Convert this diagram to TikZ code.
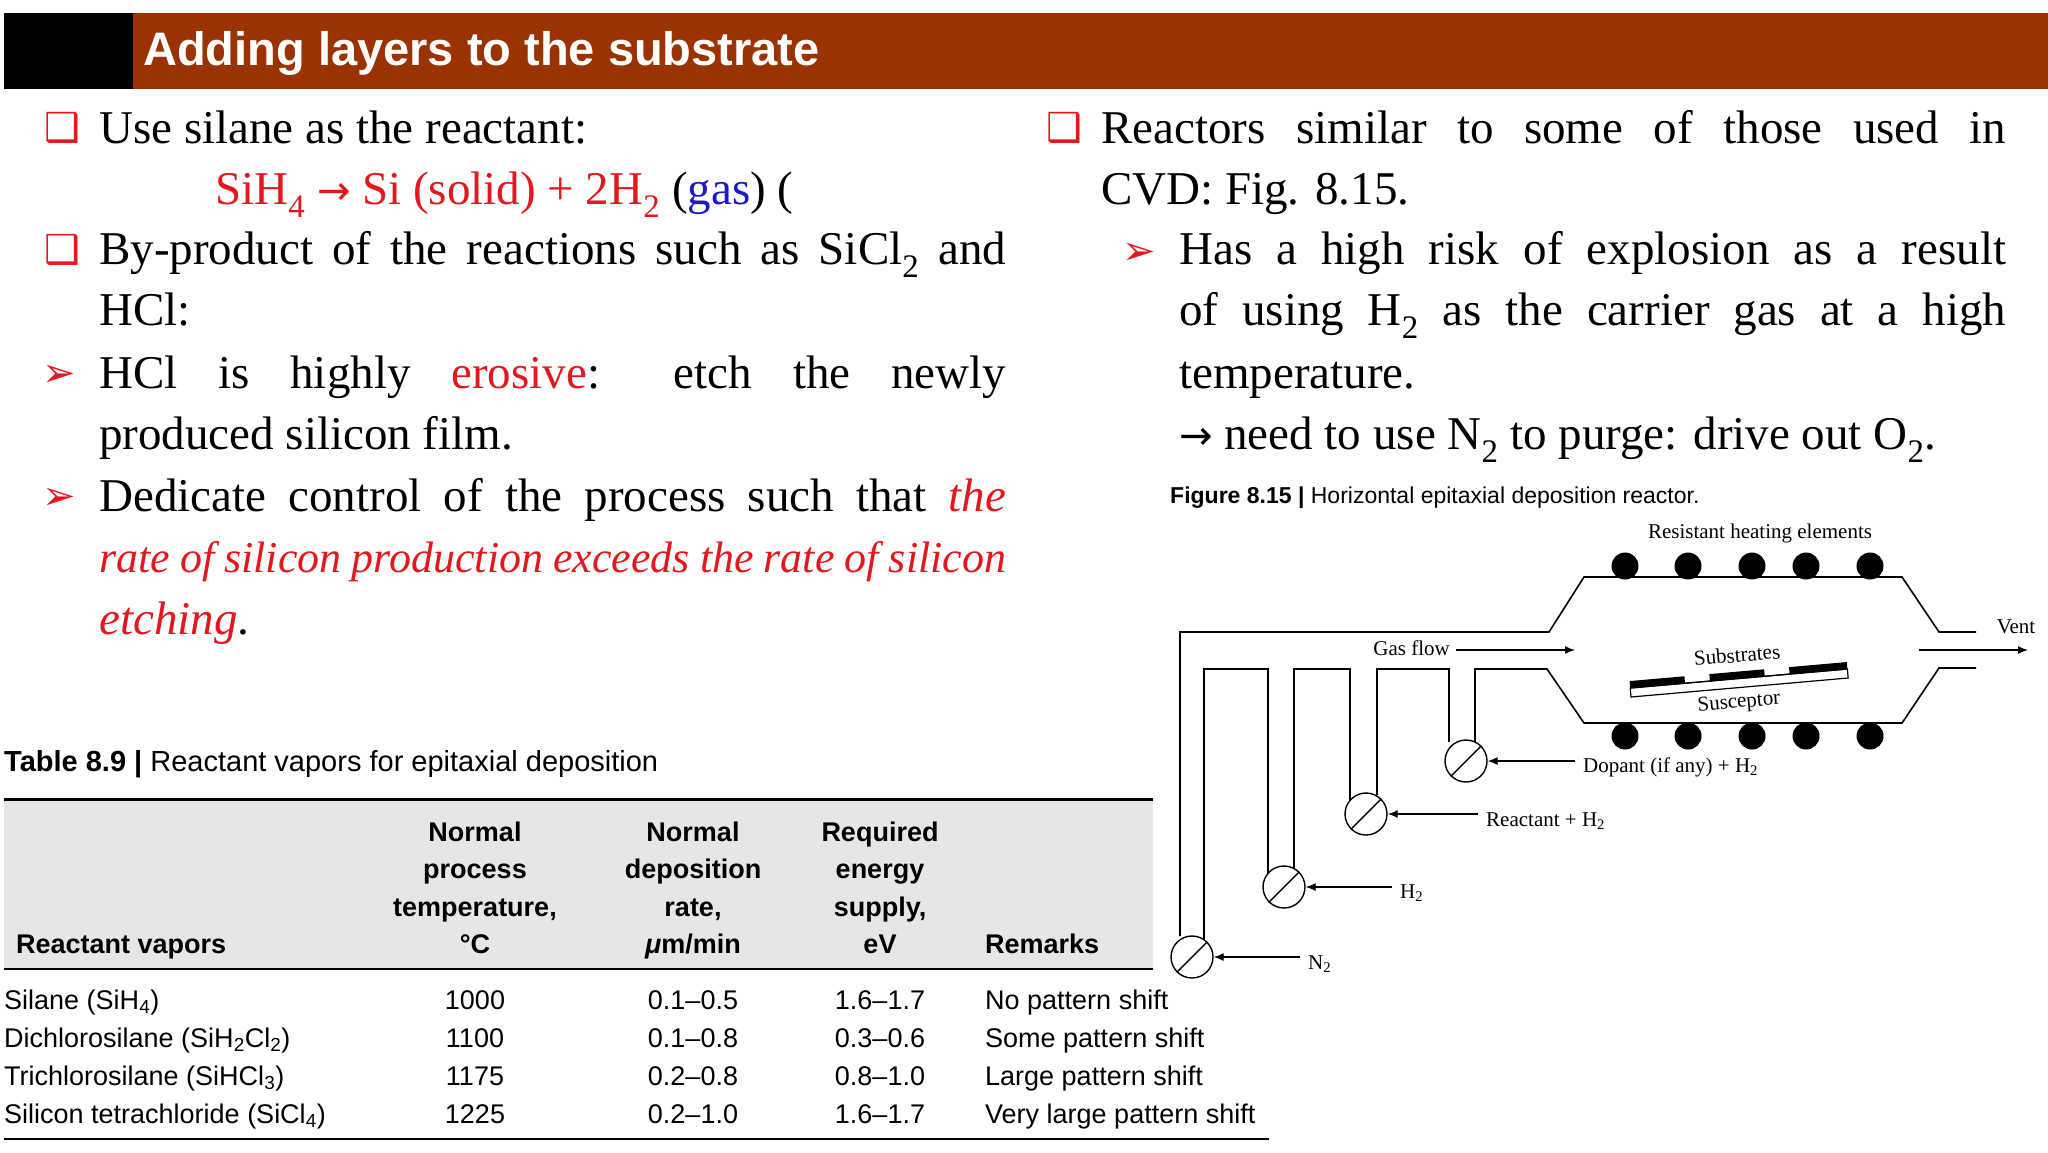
\documentclass[tikz,border=0pt]{standalone}
\usepackage{fontspec}
\usetikzlibrary{arrows.meta}
\setmainfont{Liberation Serif}
\setsansfont{Liberation Sans}
\newfontfamily\djv{DejaVu Sans}
\definecolor{barbrown}{HTML}{9A3300}
\definecolor{myred}{HTML}{E3171C}
\definecolor{myblue}{HTML}{1A1ACC}
\definecolor{hdrgray}{HTML}{E6E6E6}
\newcommand{\sbs}[1]{\textsubscript{#1}}
\newcommand{\chk}{{\djv\bfseries\color{myred}\fontsize{40}{40}\selectfont ❑}}
\newcommand{\arw}{{\djv\color{myred}\fontsize{40}{40}\selectfont ➢}}
\newcommand{\rarr}{{\djv\fontsize{40}{40}\selectfont →}}
\newcommand{\jl}[2]{\hbox to #1{#2}}
\begin{document}
\begin{tikzpicture}[x=1pt,y=-1pt,
  body/.style={anchor=base west,inner sep=0,font=\fontsize{47}{61}\selectfont},
  mk/.style={anchor=base west,inner sep=0},
  tb/.style={anchor=base,inner sep=0,font=\sffamily\fontsize{27}{30}\selectfont},
  th/.style={anchor=base,inner sep=0,font=\sffamily\bfseries\fontsize{27}{30}\selectfont},
  rl/.style={inner sep=0,font=\fontsize{21}{24}\selectfont},
  pipe/.style={line width=1.6pt},
  valve/.style={circle,draw,line width=1.4pt,minimum size=42pt,inner sep=0},
  ar/.style={-{Latex[length=10pt,width=8pt]},line width=1.4pt},
  dot/.style={circle,fill=black,minimum size=27pt,inner sep=0}]
\useasboundingbox (0,0) rectangle (2048,1152);
\fill[white] (0,0) rectangle (2048,1152);
% title bar
\fill[barbrown] (133,13) rectangle (2048,89);
\fill[black] (4,13) rectangle (133,89);
\node[anchor=west,inner sep=0,text=white,font=\sffamily\bfseries\fontsize{47}{50}\selectfont] (title) at (143,53) {Adding layers to the substrate};
% left column
\node[mk] (m1) at (44,141) {\chk};
\node[body] (l1) at (99,143) {Use silane as the reactant:};
\node[body] (l2) at (215,204) {\color{myred}SiH\sbs{4} \rarr{} Si (solid) + 2H\sbs{2} \color{black}(\color{myblue}gas\color{black}) (};
\node[mk] (m2) at (44,263) {\chk};
\node[body] (l3) at (99,264) {\jl{907pt}{By-product of the reactions such as SiCl\sbs{2} and}};
\node[body] (l4) at (99,325) {HCl:};
\node[mk] (m3) at (42,386) {\arw};
\node[body] (l5) at (99,388) {\jl{907pt}{HCl is highly {\color{myred}erosive}: etch the newly}};
\node[body] (l6) at (99,449) {produced silicon film.};
\node[mk] (m4) at (42,509) {\arw};
\node[body] (l7) at (99,511) {\jl{907pt}{Dedicate control of the process such that {\color{myred}\itshape the}}};
\node[body,font=\fontsize{44}{61}\selectfont] (l8) at (99,572) {\jl{907pt}{\color{myred}\itshape rate of silicon production exceeds the rate of silicon}};
\node[body] (l9) at (99,634) {{\color{myred}\itshape etching}.};
% right column
\node[mk] (m5) at (1046,141) {\chk};
\node[body] (r1) at (1101,143) {\jl{905pt}{Reactors similar to some of those used in}};
\node[body] (r2) at (1101,204) {CVD: Fig. 8.15.};
\node[mk] (m6) at (1122,264) {\arw};
\node[body] (r3) at (1179,264) {\jl{827pt}{Has a high risk of explosion as a result}};
\node[body] (r4) at (1179,325) {\jl{827pt}{of using H\sbs{2} as the carrier gas at a high}};
\node[body] (r5) at (1179,388) {temperature.};
\node[body] (r6) at (1179,449) {\rarr{} need to use N\sbs{2} to purge: drive out O\sbs{2}.};
% table
\node[anchor=west,inner sep=0,font=\sffamily\fontsize{29}{30}\selectfont] (tt) at (4,764) {\textbf{Table 8.9} {\bfseries|} Reactant vapors for epitaxial deposition};
\fill[hdrgray] (4,799) rectangle (1153,969);
\draw[line width=3pt] (4,799) -- (1153,799);
\draw[line width=1.4pt] (4,969) -- (1153,969);
\draw[line width=1.4pt] (4,1139) -- (1269,1139);
\node[th,anchor=base west] (h1) at (16,953) {Reactant vapors};
\node[th,anchor=base west] (h5) at (985,953) {Remarks};
\node[th] (h2a) at (475,841) {Normal};
\node[th] (h2b) at (475,878) {process};
\node[th] (h2c) at (475,916) {temperature,};
\node[th] (h2d) at (475,953) {°C};
\node[th] (h3a) at (693,841) {Normal};
\node[th] (h3b) at (693,878) {deposition};
\node[th] (h3c) at (693,916) {rate,};
\node[th] (h3d) at (693,953) {\textit{μ}m/min};
\node[th] (h4a) at (880,841) {Required};
\node[th] (h4b) at (880,878) {energy};
\node[th] (h4c) at (880,916) {supply,};
\node[th] (h4d) at (880,953) {eV};
\foreach \y/\a/\b/\c/\d/\e in {1009/Silane (SiH\sbs{4})/1000/0.1–0.5/1.6–1.7/No pattern shift,
  1047/Dichlorosilane (SiH\sbs{2}Cl\sbs{2})/1100/0.1–0.8/0.3–0.6/Some pattern shift,
  1085/Trichlorosilane (SiHCl\sbs{3})/1175/0.2–0.8/0.8–1.0/Large pattern shift,
  1123/Silicon tetrachloride (SiCl\sbs{4})/1225/0.2–1.0/1.6–1.7/Very large pattern shift}{
  \node[tb,anchor=base west] at (4,\y) {\a};
  \node[tb] at (475,\y) {\b};
  \node[tb] at (693,\y) {\c};
  \node[tb] at (880,\y) {\d};
  \node[tb,anchor=base west] at (985,\y) {\e};
}
% figure caption
\node[anchor=west,inner sep=0,font=\sffamily\fontsize{23}{26}\selectfont] (fc) at (1170,498) {\textbf{Figure 8.15} {\bfseries|} Horizontal epitaxial deposition reactor.};
% reactor
\node[rl] (heat) at (1760,533) {Resistant heating elements};
\foreach \x in {1625,1688,1752,1806,1870}{
  \node[dot] at (\x,566) {};
  \node[dot] at (\x,736) {};
}
\draw[pipe] (1976,632) -- (1939,632) -- (1902,577) -- (1584,577) -- (1549,632) -- (1180,632) -- (1180,936);
\draw[pipe] (1976,668) -- (1939,668) -- (1902,723) -- (1584,723) -- (1547,669) -- (1475,669) -- (1475,742);
\draw[pipe] (1449,742) -- (1449,669) -- (1377,669) -- (1377,795);
\draw[pipe] (1350,801) -- (1350,669) -- (1294,669) -- (1294,868);
\draw[pipe] (1268,874) -- (1268,669) -- (1204,669) -- (1204,940);
\node[valve] (vd) at (1466,761) {};
\node[valve] (vr) at (1366,814) {};
\node[valve] (vh) at (1284,887) {};
\node[valve] (vn) at (1192,957) {};
\foreach \v in {vd,vr,vh,vn}{\draw[line width=1.4pt] (\v.-135) -- (\v.45);}
\node[rl,anchor=west] (ld) at (1583,767) {Dopant (if any) + H\sbs{2}};
\node[rl,anchor=west] (lr) at (1486,821) {Reactant + H\sbs{2}};
\node[rl,anchor=west] (lh) at (1400,893) {H\sbs{2}};
\node[rl,anchor=west] (ln) at (1308,964) {N\sbs{2}};
\draw[ar] (ld.west|-vd) ++(-8,0) -- (vd.east);
\draw[ar] (lr.west|-vr) ++(-8,0) -- (vr.east);
\draw[ar] (lh.west|-vh) ++(-8,0) -- (vh.east);
\draw[ar] (ln.west|-vn) ++(-8,0) -- (vn.east);
\node[rl,anchor=east] (gf) at (1450,648) {Gas flow};
\coordinate (gfe) at (1575,650);
\draw[ar] (gf.east) ++(6,2) -- (gfe);
\node[rl] (vent) at (2016,627) {Vent};
\coordinate (vs) at (1919,650);
\coordinate (ve) at (2028,650);
\draw[ar] (vs) -- (ve);
% susceptor and substrates
\begin{scope}[shift={(1631,697)},rotate=5]
  \draw[line width=1.2pt,fill=white] (0,0) rectangle (218,-9);
  \fill[black] (0,-9) rectangle (55,-16);
  \fill[black] (80,-9) rectangle (135,-16);
  \fill[black] (160,-9) rectangle (218,-16);
  \draw[line width=1.2pt] (0,-9) -- (218,-9);
\end{scope}
\node[rl,rotate=5] (subs) at (1737,655) {Substrates};
\node[rl,rotate=5] (susc) at (1739,703) {Susceptor};
\end{tikzpicture}
\end{document}
